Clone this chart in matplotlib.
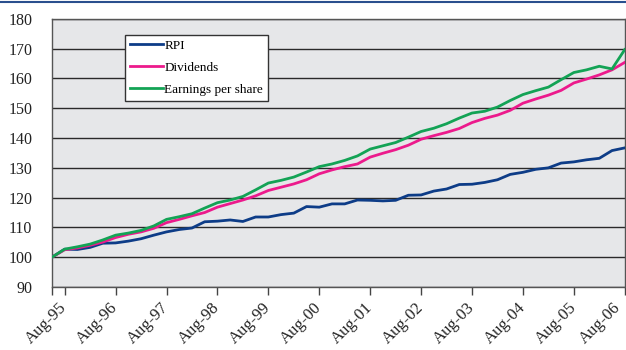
import matplotlib
matplotlib.use("Agg")
import matplotlib.pyplot as plt
import matplotlib.transforms as mtransforms
from matplotlib.lines import Line2D

# quarterly index, May-95 = 100
rpi = [100.0, 102.7, 102.6, 103.3, 104.7, 104.8, 105.4, 106.2, 107.4, 108.5,
       109.3, 109.8, 111.9, 112.1, 112.5, 112.0, 113.5, 113.5, 114.3, 114.8,
       117.0, 116.8, 117.9, 117.9, 119.2, 119.1, 118.9, 119.1, 120.8, 120.9,
       122.2, 122.9, 124.4, 124.5, 125.1, 126.0, 127.8, 128.5, 129.5, 130.0,
       131.6, 132.0, 132.7, 133.2, 135.8, 136.7]
dividends = [100.0, 102.5, 103.1, 104.0, 105.1, 106.6, 107.7, 108.5, 109.7, 111.6,
             112.7, 113.9, 115.0, 116.8, 118.0, 119.2, 120.6, 122.4, 123.5, 124.6,
             126.0, 128.0, 129.3, 130.4, 131.3, 133.6, 134.9, 136.1, 137.6, 139.6,
             140.8, 141.9, 143.2, 145.2, 146.6, 147.7, 149.3, 151.7, 153.1, 154.4,
             156.0, 158.5, 159.8, 161.2, 162.9, 165.4]
eps = [100.0, 102.7, 103.5, 104.4, 105.8, 107.4, 108.1, 109.0, 110.5, 112.7,
       113.6, 114.6, 116.5, 118.3, 119.2, 120.4, 122.6, 124.9, 125.8, 126.9,
       128.6, 130.4, 131.3, 132.5, 134.0, 136.3, 137.4, 138.5, 140.3, 142.2,
       143.3, 144.8, 146.7, 148.4, 149.0, 150.4, 152.6, 154.6, 155.9, 157.1,
       159.6, 162.0, 162.9, 164.1, 163.2, 169.7]
tick_labels = ["Aug-95", "Aug-96", "Aug-97", "Aug-98", "Aug-99", "Aug-00",
               "Aug-01", "Aug-02", "Aug-03", "Aug-04", "Aug-05", "Aug-06"]

plt.rcParams['font.family'] = ['Liberation Serif', 'DejaVu Serif']

x = list(range(len(rpi)))
tick_pos = [1 + 4 * i for i in range(len(tick_labels))]

fig = plt.figure(figsize=(6.26, 3.5), dpi=100)
ax = fig.add_axes([0.083, 0.18, 0.915, 0.766])
ax.set_facecolor("#e6e7e9")

ax.plot(x, rpi, color="#0d3c87", lw=2.0, label="RPI", zorder=3)
ax.plot(x, dividends, color="#ec1a8c", lw=2.0, label="Dividends", zorder=3)
ax.plot(x, eps, color="#13a355", lw=2.0, label="Earnings per share", zorder=3)

ax.set_xlim(0, len(rpi) - 1)
ax.set_ylim(90, 180)
ax.set_yticks(range(90, 181, 10))
ax.yaxis.grid(True, color="#2a2a2a", lw=1.0)
ax.set_axisbelow(True)
ax.tick_params(axis="y", length=0, labelsize=11.5, colors="#222222", pad=14)

ax.set_xticks([0] + tick_pos)
ax.set_xticklabels([""] + tick_labels)
ax.tick_params(axis="x", direction="out", length=6, width=1, color="#444444",
               labelsize=12, labelcolor="#222222", pad=7)
for lab in ax.get_xticklabels():
    lab.set_rotation(45)
    lab.set_ha("right")
    lab.set_va("center")
    lab.set_rotation_mode("anchor")

# nudge the last label so it stays inside the figure
last = ax.get_xticklabels()[-1]
last.set_transform(last.get_transform() +
                   mtransforms.ScaledTranslation(-5 / 72, 0, fig.dpi_scale_trans))

for s in ax.spines.values():
    s.set_color("#555555")
    s.set_linewidth(1.0)

leg = ax.legend(loc="upper left", bbox_to_anchor=(0.128, 0.94), fontsize=9.5,
                frameon=True, fancybox=False, handlelength=2.5, handletextpad=0.1,
                borderpad=0.35, labelspacing=0.75, borderaxespad=0)
leg.get_frame().set_edgecolor("#333333")
leg.get_frame().set_facecolor("white")
leg.get_frame().set_alpha(1)
leg.get_frame().set_linewidth(1.0)

# thin rule along the top of the figure
fig.add_artist(Line2D([0, 1], [0.993, 0.993], transform=fig.transFigure,
                      color="#2a4f8e", lw=1.5))

fig.savefig("out.png", dpi=100)
